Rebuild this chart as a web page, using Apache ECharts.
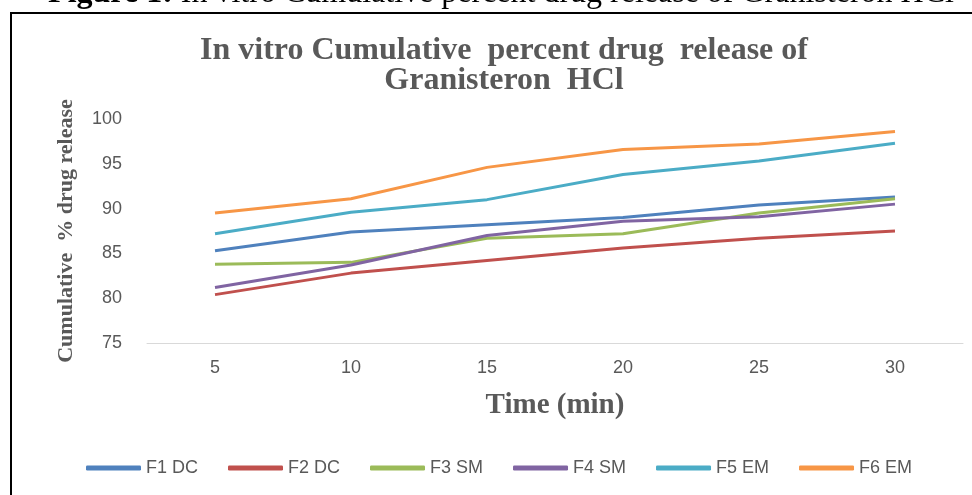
<!DOCTYPE html>
<html>
<head>
<meta charset="utf-8">
<script src="https://cdn.jsdelivr.net/npm/echarts@6/dist/echarts.min.js"></script>
<style>
  html, body { margin: 0; padding: 0; background: #fff; }
  #chartBox { width: 972px; height: 495px; }
</style>
</head>
<body>
<div id="chartBox"></div>
<script>
// time points (min)
var timeData = ["5", "10", "15", "20", "25", "30"];
var seriesNames = ["F1 DC", "F2 DC", "F3 SM", "F4 SM", "F5 EM", "F6 EM"];
// cumulative % drug release
var f1Data = [85.3, 87.4, 88.2, 89.0, 90.4, 91.3];
var f2Data = [80.4, 82.8, 84.2, 85.6, 86.7, 87.5];
var f3Data = [83.8, 84.0, 86.7, 87.2, 89.5, 91.1];
var f4Data = [81.2, 83.7, 87.0, 88.6, 89.1, 90.5];
var f5Data = [87.2, 89.6, 91.0, 93.8, 95.3, 97.3];
var f6Data = [89.5, 91.1, 94.6, 96.6, 97.2, 98.6];
var colors = ["#4F81BD", "#C0504D", "#9BBB59", "#8064A2", "#4BACC6", "#F79646"];

var allData = [f1Data, f2Data, f3Data, f4Data, f5Data, f6Data];

var myChart = echarts.init(document.getElementById("chartBox"));

function drawChart() {
  return {
    color: colors,
    animation: false,
    title: {
      text: "In vitro Cumulative  percent drug  release of\nGranisteron  HCl",
      left: 499,
      top: 31,
      textAlign: "center",
      textStyle: {
        fontFamily: "Liberation Serif",
        fontWeight: "bold",
        fontSize: 32,
        lineHeight: 30,
        color: "#595959",
      },
    },
    graphic: [
      {
        // figure caption, only its lower part is inside the picture
        type: "text",
        x: 501,
        y: -6,
        style: {
          text: "{b|Figure 1:} In vitro Cumulative percent drug release of Granisteron HCl",
          align: "center",
          verticalAlign: "middle",
          fontFamily: "Liberation Serif",
          fontSize: 32,
          fill: "#000",
          rich: {
            b: { fontWeight: "bold", fontFamily: "Liberation Serif", fontSize: 32 },
          },
        },
      },
      {
        type: "rect",
        shape: { x: 11, y: 13, width: 1000, height: 600 },
        style: { fill: "none", stroke: "#000", lineWidth: 2 },
      },
    ],
    legend: {
      data: seriesNames,
      left: 81,
      top: 454,
      icon: "roundRect",
      itemWidth: 55,
      itemHeight: 5,
      itemGap: 30,
      textStyle: {
        fontFamily: "Liberation Sans",
        fontSize: 18,
        color: "#595959",
      },
    },
    grid: {
      left: 147,
      right: 9,
      top: 119,
      bottom: 152,
    },
    xAxis: {
      type: "category",
      data: timeData,
      boundaryGap: true,
      name: "Time (min)",
      nameLocation: "middle",
      nameGap: 48,
      nameTextStyle: {
        fontFamily: "Liberation Serif",
        fontWeight: "bold",
        fontSize: 29,
        color: "#595959",
      },
      axisLine: { lineStyle: { color: "#D9D9D9", width: 1 } },
      axisTick: { show: false },
      axisLabel: {
        margin: 16,
        fontFamily: "Liberation Sans",
        fontSize: 18,
        color: "#595959",
      },
    },
    yAxis: {
      type: "value",
      min: 75,
      max: 100,
      interval: 5,
      name: "Cumulative  % drug release",
      nameLocation: "middle",
      nameGap: 70,
      nameTextStyle: {
        fontFamily: "Liberation Serif",
        fontWeight: "bold",
        fontSize: 22,
        color: "#595959",
      },
      axisLine: { show: false },
      axisTick: { show: false },
      splitLine: { show: false },
      axisLabel: {
        margin: 25,
        fontFamily: "Liberation Sans",
        fontSize: 18,
        color: "#595959",
      },
    },
    series: seriesNames.map(function (name, i) {
      return {
        name: name,
        type: "line",
        data: allData[i],
        symbol: "none",
        lineStyle: { width: 3, color: colors[i] },
        itemStyle: { color: colors[i] },
      };
    }),
  };
}

myChart.setOption(drawChart());
</script>
</body>
</html>
